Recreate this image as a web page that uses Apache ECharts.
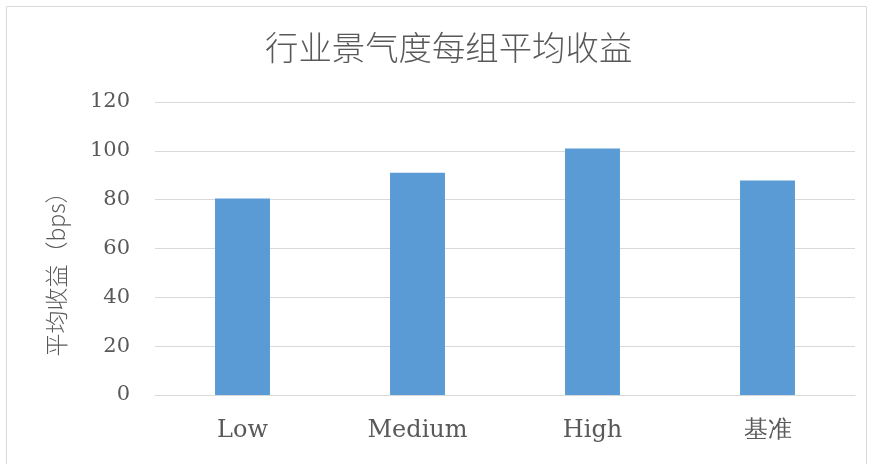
<!DOCTYPE html>
<html>
<head>
<meta charset="utf-8">
<script src="https://cdn.jsdelivr.net/npm/echarts@6/dist/echarts.min.js"></script>
<style>
  html, body { margin: 0; padding: 0; background: #fff; }
  #chart { width: 875px; height: 464px; }
</style>
</head>
<body>
<div id="chart"></div>
<script>
// Average return per industry-sentiment group (bps)
const categories = ['Low', 'Medium', 'High', '基准'];
const avgReturn = [80.5, 91.0, 101.0, 87.9];
const yTicks = [0, 20, 40, 60, 80, 100, 120];

const chart = echarts.init(document.getElementById('chart'));
const labelColor = '#595959';
const gridColor = '#d9d9d9';

chart.setOption({
  animation: false,
  backgroundColor: '#ffffff',
  title: {
    text: '行业景气度每组平均收益',
    left: 260,
    top: 26,
    textStyle: {
      fontFamily: '"Noto Sans CJK SC", sans-serif',
      fontWeight: 300,
      fontSize: 33.4,
      color: labelColor
    }
  },
  graphic: [{
    type: 'rect',
    shape: { x: 6.5, y: 6.5, width: 860, height: 480 },
    style: { fill: 'none', stroke: '#d9d9d9', lineWidth: 1 },
    silent: true
  }],
  grid: { left: 155, right: 20, top: 102, bottom: 69 },
  xAxis: {
    type: 'category',
    data: categories,
    axisLine: { lineStyle: { color: gridColor, width: 1 } },
    axisTick: { show: false },
    axisLabel: {
      margin: 24,
      color: labelColor,
      fontSize: 24,
      fontFamily: '"DejaVu Serif", serif'
    }
  },
  yAxis: {
    type: 'value',
    min: yTicks[0],
    max: yTicks[yTicks.length - 1],
    interval: 20,
    name: '平均收益（bps）',
    nameLocation: 'middle',
    nameGap: 87,
    nameRotate: 90,
    nameTextStyle: {
      color: labelColor,
      fontSize: 23,
      fontWeight: 300,
      fontFamily: '"Noto Sans CJK SC", sans-serif',
      padding: [0, 40, 0, 0]
    },
    axisLine: { show: false },
    axisTick: { show: false },
    splitLine: { lineStyle: { color: gridColor, width: 1 } },
    axisLabel: {
      margin: 25,
      color: labelColor,
      fontSize: 21,
      fontFamily: '"DejaVu Serif", serif'
    }
  },
  series: [{
    type: 'bar',
    data: avgReturn,
    barWidth: '31.4%',
    itemStyle: { color: '#5b9bd5' }
  }]
});
</script>
</body>
</html>
